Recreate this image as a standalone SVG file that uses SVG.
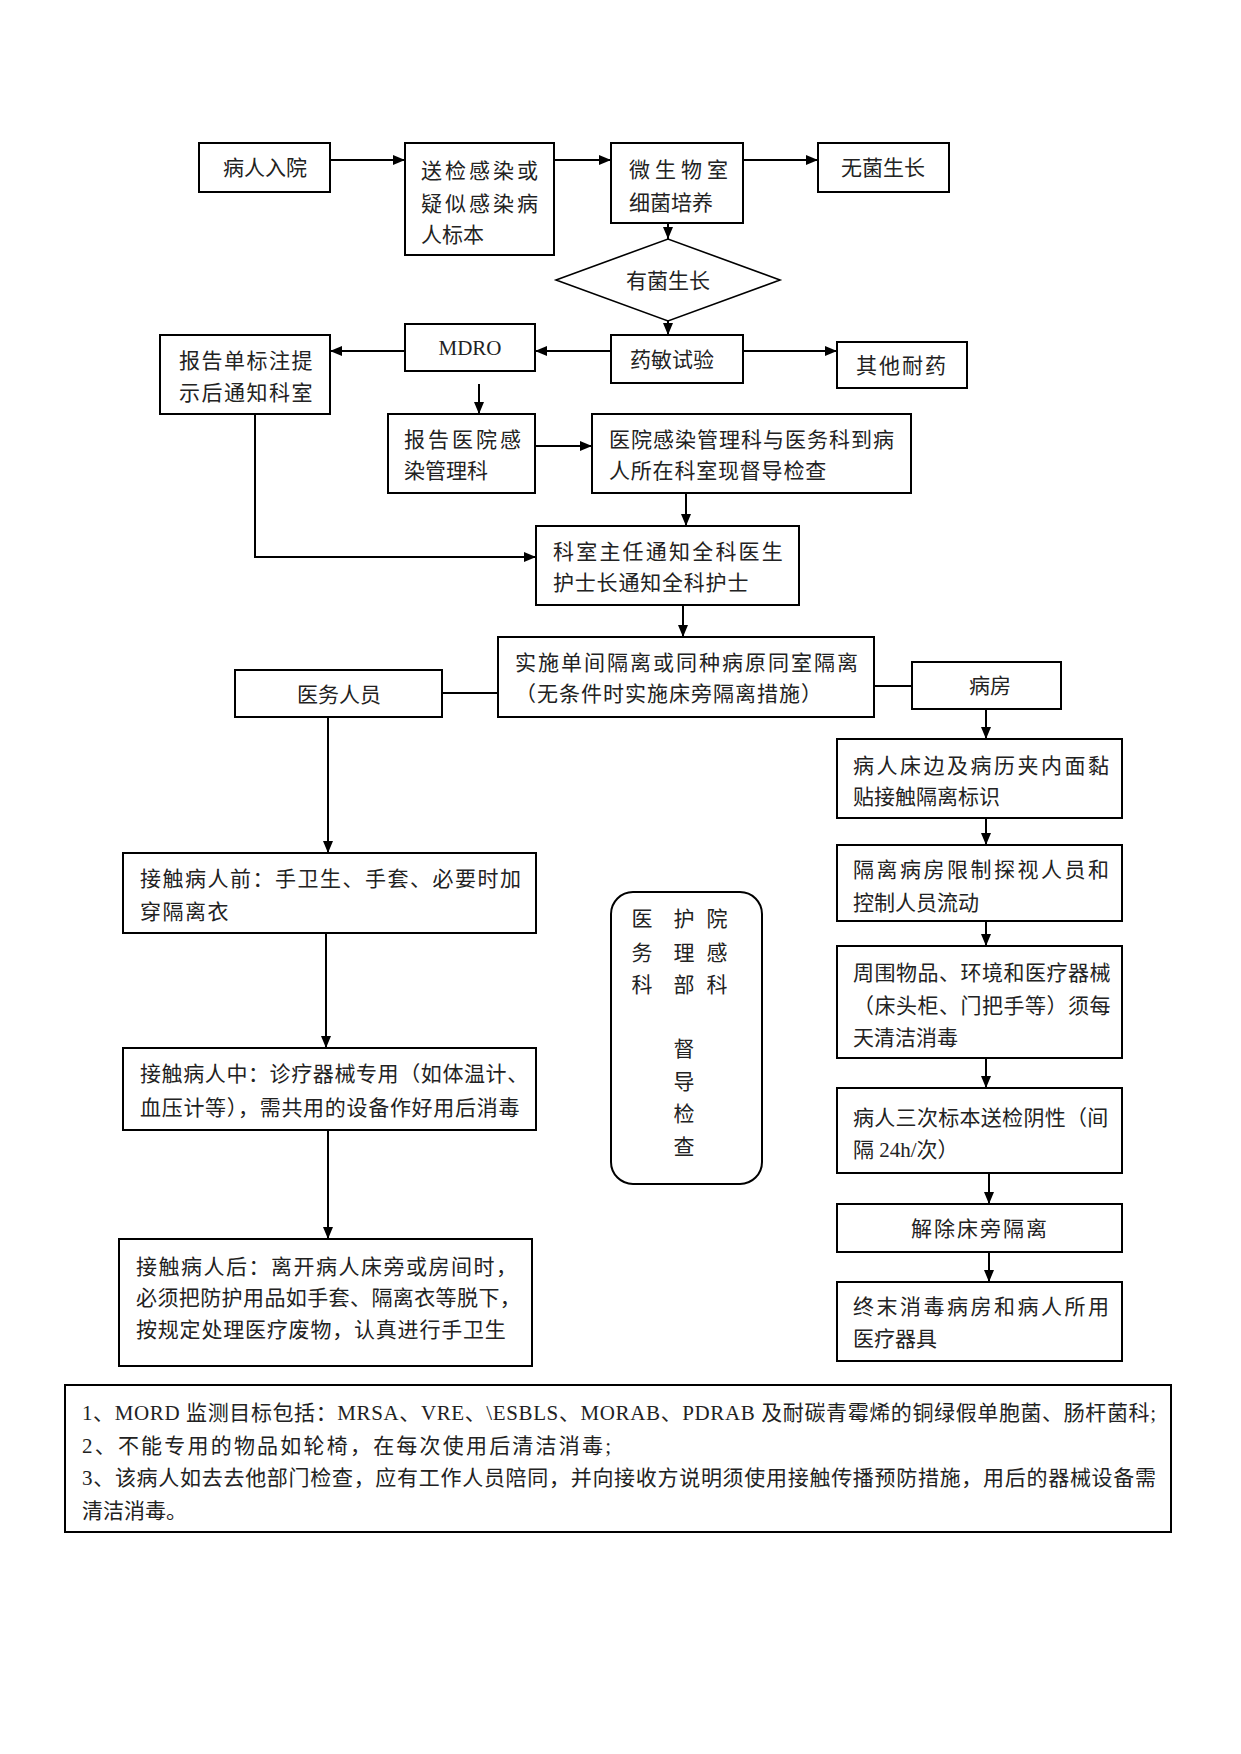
<svg xmlns="http://www.w3.org/2000/svg" width="1241" height="1754" viewBox="0 0 1241 1754">
<defs>
<marker id="ah" viewBox="0 0 12 10" refX="12" refY="5" markerWidth="12" markerHeight="10" markerUnits="userSpaceOnUse" orient="auto">
<path d="M0,0 L12,5 L0,10 z" fill="#000"/>
</marker>
<style>
.b{fill:#fff;stroke:#000;stroke-width:2}
.t{font-family:"Liberation Serif","Noto Sans CJK SC",serif;font-size:21px;fill:#222}
.n{font-family:"Liberation Serif","Noto Sans CJK SC",serif;font-size:21px;fill:#222}
.c{text-anchor:middle}
.l{fill:none;stroke:#000;stroke-width:2}
.a{fill:none;stroke:#000;stroke-width:2;marker-end:url(#ah)}
</style>
</defs>
<rect width="1241" height="1754" fill="#fff"/>
<g id="connectors">
<line class="a" x1="330" y1="160" x2="405" y2="160"/>
<line class="a" x1="554" y1="160" x2="611" y2="160"/>
<line class="a" x1="743" y1="160" x2="818" y2="160"/>
<line class="a" x1="668" y1="223" x2="668" y2="239"/>
<line class="a" x1="668" y1="321" x2="668" y2="335"/>
<line class="a" x1="611" y1="351" x2="535" y2="351"/>
<line class="a" x1="405" y1="351" x2="330" y2="351"/>
<line class="a" x1="743" y1="351" x2="837" y2="351"/>
<line class="a" x1="479" y1="384" x2="479" y2="414"/>
<line class="a" x1="535" y1="446" x2="592" y2="446"/>
<line class="a" x1="686" y1="493" x2="686" y2="526"/>
<polyline class="a" points="255,414 255,557 536,557"/>
<line class="a" x1="683" y1="605" x2="683" y2="637"/>
<line class="l" x1="442" y1="693" x2="498" y2="693"/>
<line class="l" x1="874" y1="686" x2="912" y2="686"/>
<line class="a" x1="986" y1="709" x2="986" y2="739"/>
<line class="a" x1="986" y1="818" x2="986" y2="845"/>
<line class="a" x1="986" y1="921" x2="986" y2="946"/>
<line class="a" x1="986" y1="1058" x2="986" y2="1088"/>
<line class="a" x1="989" y1="1173" x2="989" y2="1204"/>
<line class="a" x1="989" y1="1252" x2="989" y2="1282"/>
<line class="a" x1="328" y1="717" x2="328" y2="853"/>
<line class="a" x1="326" y1="933" x2="326" y2="1048"/>
<line class="a" x1="328" y1="1130" x2="328" y2="1239"/>
</g>
<g id="n1"><rect class="b" x="199" y="143" width="131" height="49"/><text class="t c" x="265" y="175">病人入院</text></g>
<g id="n2"><rect class="b" x="405" y="143" width="149" height="112"/>
<text class="t" x="421" y="178" letter-spacing="3">送检感染或</text><text class="t" x="421" y="211" letter-spacing="3">疑似感染病</text><text class="t" x="421" y="242">人标本</text></g>
<g id="n3"><rect class="b" x="611" y="143" width="132" height="80"/>
<text class="t" x="629" y="177" letter-spacing="5">微生物室</text><text class="t" x="629" y="210">细菌培养</text></g>
<g id="n4"><rect class="b" x="818" y="143" width="131" height="49"/><text class="t c" x="883" y="175">无菌生长</text></g>
<g id="n5"><polygon class="b" points="556,280 668,239 780,280 668,321" style="stroke-width:1.6"/><text class="t c" x="668" y="288">有菌生长</text></g>
<g id="n6"><rect class="b" x="611" y="335" width="132" height="48"/><text class="t c" x="672" y="367">药敏试验</text></g>
<g id="n7"><rect class="b" x="405" y="324" width="130" height="47"/><text class="t c" x="470" y="355">MDRO</text></g>
<g id="n8"><rect class="b" x="160" y="335" width="170" height="79"/>
<text class="t" x="179" y="368" letter-spacing="1.5">报告单标注提</text><text class="t" x="179" y="400" letter-spacing="1.5">示后通知科室</text></g>
<g id="n9"><rect class="b" x="837" y="342" width="130" height="46"/><text class="t c" x="902" y="373" letter-spacing="2">其他耐药</text></g>
<g id="n10"><rect class="b" x="388" y="414" width="147" height="79"/>
<text class="t" x="404" y="447" letter-spacing="3">报告医院感</text><text class="t" x="404" y="478">染管理科</text></g>
<g id="n11"><rect class="b" x="592" y="414" width="319" height="79"/>
<text class="t" x="609" y="447" letter-spacing="1">医院感染管理科与医务科到病</text><text class="t" x="609" y="478" letter-spacing="0.8">人所在科室现督导检查</text></g>
<g id="n12"><rect class="b" x="536" y="526" width="263" height="79"/>
<text class="t" x="553" y="559" letter-spacing="2.2">科室主任通知全科医生</text><text class="t" x="553" y="590" letter-spacing="0.8">护士长通知全科护士</text></g>
<g id="n13"><rect class="b" x="498" y="637" width="376" height="80"/>
<text class="t" x="515" y="670" letter-spacing="2">实施单间隔离或同种病原同室隔离</text><text class="t" x="515" y="701" letter-spacing="1">（无条件时实施床旁隔离措施）</text></g>
<g id="n14"><rect class="b" x="235" y="670" width="207" height="47"/><text class="t c" x="339" y="702">医务人员</text></g>
<g id="n15"><rect class="b" x="912" y="662" width="149" height="47"/><text class="t c" x="990" y="693">病房</text></g>
<g id="n16"><rect class="b" x="837" y="739" width="285" height="79"/>
<text class="t" x="853" y="773" letter-spacing="2.5">病人床边及病历夹内面黏</text><text class="t" x="853" y="804">贴接触隔离标识</text></g>
<g id="n17"><rect class="b" x="837" y="845" width="285" height="76"/>
<text class="t" x="853" y="877" letter-spacing="2.5">隔离病房限制探视人员和</text><text class="t" x="853" y="910">控制人员流动</text></g>
<g id="n18"><rect class="b" x="837" y="946" width="285" height="112"/>
<text class="t" x="853" y="980" letter-spacing="0.5">周围物品、环境和医疗器械</text><text class="t" x="853" y="1013" letter-spacing="0.5">（床头柜、门把手等）须每</text><text class="t" x="853" y="1045">天清洁消毒</text></g>
<g id="n19"><rect class="b" x="837" y="1088" width="285" height="85"/>
<text class="t" x="853" y="1125" letter-spacing="0.3">病人三次标本送检阴性（间</text><text class="t" x="853" y="1157">隔 24h/次）</text></g>
<g id="n20"><rect class="b" x="837" y="1204" width="285" height="48"/><text class="t c" x="980" y="1236" letter-spacing="2">解除床旁隔离</text></g>
<g id="n21"><rect class="b" x="837" y="1282" width="285" height="79"/>
<text class="t" x="853" y="1314" letter-spacing="2.5">终末消毒病房和病人所用</text><text class="t" x="853" y="1346">医疗器具</text></g>
<g id="n22"><rect class="b" x="123" y="853" width="413" height="80"/>
<text class="t" x="140" y="886" letter-spacing="1.5">接触病人前：手卫生、手套、必要时加</text><text class="t" x="140" y="919" letter-spacing="1.5">穿隔离衣</text></g>
<g id="n23"><rect class="b" x="123" y="1048" width="413" height="82"/>
<text class="t" x="140" y="1081" letter-spacing="0.6">接触病人中：诊疗器械专用（如体温计、</text><text class="t" x="140" y="1115" letter-spacing="0.7">血压计等），需共用的设备作好用后消毒</text></g>
<g id="n24"><rect class="b" x="119" y="1239" width="413" height="127"/>
<text class="t" x="136" y="1274" letter-spacing="1.5">接触病人后：离开病人床旁或房间时，</text><text class="t" x="136" y="1305" letter-spacing="0.4">必须把防护用品如手套、隔离衣等脱下，</text><text class="t" x="136" y="1337" letter-spacing="0.8">按规定处理医疗废物，认真进行手卫生</text></g>
<g id="n25"><rect class="b" x="611" y="892" width="151" height="292" rx="22" ry="22"/>
<text class="t c" x="642" y="926">医</text><text class="t c" x="642" y="960">务</text><text class="t c" x="642" y="992">科</text>
<text class="t c" x="684" y="926">护</text><text class="t c" x="684" y="960">理</text><text class="t c" x="684" y="992">部</text>
<text class="t c" x="717" y="926">院</text><text class="t c" x="717" y="960">感</text><text class="t c" x="717" y="992">科</text>
<text class="t c" x="684" y="1056">督</text><text class="t c" x="684" y="1089">导</text><text class="t c" x="684" y="1121">检</text><text class="t c" x="684" y="1154">查</text></g>
<g id="notes"><rect class="b" x="65" y="1385" width="1106" height="147"/>
<text class="n" x="82" y="1420" textLength="1074">1、MORD 监测目标包括：MRSA、VRE、\ESBLS、MORAB、PDRAB 及耐碳青霉烯的铜绿假单胞菌、肠杆菌科;</text>
<text class="n" x="82" y="1453" textLength="529">2、不能专用的物品如轮椅，在每次使用后清洁消毒;</text>
<text class="n" x="82" y="1485" textLength="1074">3、该病人如去去他部门检查，应有工作人员陪同，并向接收方说明须使用接触传播预防措施，用后的器械设备需</text>
<text class="n" x="82" y="1518">清洁消毒。</text></g>
</svg>
